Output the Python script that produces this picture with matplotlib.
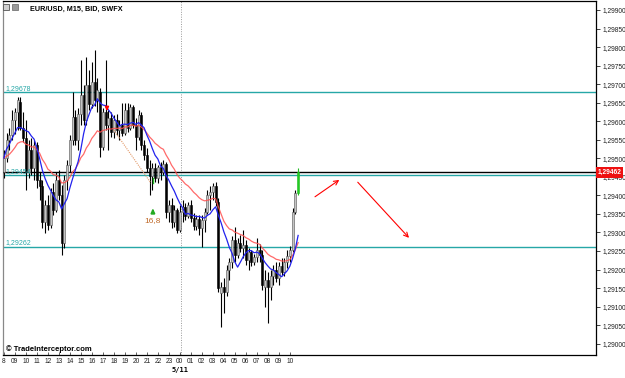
import numpy as np
import pandas as pd
import matplotlib
matplotlib.use("Agg")
import matplotlib.pyplot as plt
from matplotlib.patches import Rectangle
from matplotlib.ticker import FuncFormatter, FixedLocator
import matplotlib.transforms as mtransforms

plt.rcParams['font.family'] = ['Liberation Sans', 'DejaVu Sans']

# M15 bars, values in points above 1.29000
open_pts = [463, 501, 549, 563, 603, 625, 652, 582, 555, 463, 522, 474, 536, 442, 425, 328, 374, 320, 409, 361,
            442, 401, 272, 442, 482, 549, 611, 549, 620, 671, 603, 698, 646, 706, 657, 679, 531, 625, 590, 609,
            571, 603, 576, 590, 568, 630, 582, 638, 590, 557, 617, 536, 509, 474, 452, 474, 447, 477, 463, 485,
            355, 374, 328, 361, 307, 355, 369, 344, 374, 339, 317, 336, 312, 334, 355, 401, 409, 425, 382, 137,
            153, 139, 199, 220, 280, 239, 272, 258, 266, 226, 247, 220, 234, 253, 239, 153, 172, 153, 183, 199,
            177, 210, 193, 220, 237, 253, 355, 406]
high_pts = [522, 568, 582, 630, 636, 665, 665, 625, 603, 549, 555, 549, 544, 463, 442, 388, 401, 420, 433, 463,
            468, 428, 455, 495, 563, 679, 630, 636, 765, 698, 773, 738, 760, 792, 717, 690, 636, 765, 630, 625,
            617, 620, 603, 649, 649, 649, 646, 644, 609, 630, 625, 549, 528, 495, 487, 487, 482, 490, 495, 490,
            388, 393, 374, 366, 374, 388, 379, 382, 388, 353, 347, 347, 347, 366, 415, 425, 433, 436, 393, 166,
            177, 212, 231, 290, 315, 285, 293, 307, 280, 258, 253, 242, 285, 269, 253, 199, 193, 199, 212, 220,
            220, 231, 231, 253, 264, 366, 415, 474]
low_pts = [447, 490, 522, 549, 566, 576, 576, 544, 415, 447, 455, 442, 420, 388, 312, 299, 307, 312, 347, 355,
           388, 239, 258, 415, 463, 536, 536, 522, 590, 590, 590, 630, 636, 641, 625, 504, 522, 576, 522, 557,
           555, 563, 549, 560, 563, 571, 576, 582, 522, 549, 522, 495, 463, 401, 415, 436, 433, 442, 455, 339,
           328, 312, 315, 299, 301, 328, 334, 339, 328, 307, 307, 293, 261, 301, 350, 361, 388, 371, 139, 45,
           83, 129, 172, 204, 220, 231, 247, 231, 212, 199, 210, 212, 220, 220, 145, 99, 56, 118, 158, 166,
           158, 185, 183, 204, 220, 247, 350, 401]
close_pts = [501, 549, 563, 603, 625, 657, 582, 555, 463, 522, 474, 536, 442, 425, 328, 374, 320, 409, 361, 442,
             401, 272, 442, 482, 549, 611, 549, 620, 671, 603, 698, 646, 706, 657, 684, 531, 625, 590, 609, 571,
             603, 576, 590, 568, 630, 582, 638, 590, 557, 617, 536, 509, 474, 452, 474, 447, 477, 463, 485, 355,
             374, 328, 361, 307, 355, 369, 344, 374, 339, 317, 336, 312, 334, 355, 401, 409, 425, 382, 150, 153,
             139, 199, 220, 280, 239, 272, 258, 266, 226, 247, 220, 234, 253, 239, 158, 172, 153, 183, 199, 177,
             210, 193, 220, 237, 253, 355, 406, 462]

hour_labels = ['8', '09', '10', '11', '12', '13', '14', '15', '16', '17', '18', '19', '20', '21', '22', '23',
               '00', '01', '02', '03', '04', '05', '06', '07', '08', '09', '10']
levels = [1.29678, 1.29454, 1.29262]
level_labels = ['1,29678', '1,29454', '1,29262']
last_price = 1.29462

base = 1.29
o = base + np.array(open_pts) / 1e5
h = base + np.array(high_pts) / 1e5
l = base + np.array(low_pts) / 1e5
c = base + np.array(close_pts) / 1e5
idx = np.arange(len(c))

fig = plt.figure(figsize=(6.25, 3.78), dpi=100)
ax = fig.add_axes([3 / 625, 1 - 355 / 378, 593 / 625, 354 / 378])
ax.set_xlim(-0.3, 215.3)
ax.set_ylim(1.289695, 1.299243)

teal = '#26a7a7'
for lv, lab in zip(levels, level_labels):
    ax.axhline(lv, color=teal, lw=1.0, zorder=2)
    ax.text(0.5, lv + 0.000006, lab, color=teal, fontsize=5, va='bottom', ha='left', zorder=6)
ax.axhline(last_price, color='black', lw=1.0, zorder=3)

# day separator
ax.axvline(64.3, color='#999999', lw=0.7, ls=(0, (1, 1.5)), zorder=1)

# candles
up = c >= o
for i in idx:
    last = i == idx[-1]
    if last:
        col, face = '#22bb22', '#22cc22'
    elif up[i]:
        col, face = '#555555', '#c4c4c4'
    else:
        col, face = 'black', 'black'
    ax.vlines(i, l[i], h[i], color='black' if not last else col, lw=0.8, zorder=4)
    lo, hi = min(o[i], c[i]), max(o[i], c[i])
    ax.bar(i, max(hi - lo, 0.000015), bottom=lo, width=0.75, color=face, edgecolor=col, lw=0.4, zorder=5)

# moving averages
closes = pd.Series(c)
fast = closes.rolling(8, min_periods=1).mean()
slow = closes.ewm(span=21, adjust=False).mean()
ax.plot(idx, slow, color='#ff5050', lw=0.9, alpha=0.85, zorder=6)
ax.plot(idx, fast, color='#2222ee', lw=0.9, zorder=7)

# drawings
ax.plot([40, 53.5], [1.29576, 1.29433], color='#e39a6a', lw=0.8, ls=(0, (1, 1)), zorder=6)
ax.annotate('', xy=(37.5, 1.29620), xytext=(37.5, 1.29645),
            arrowprops=dict(arrowstyle='-|>', color='red', lw=1.2, mutation_scale=5), zorder=8)
ax.annotate('', xy=(54.2, 1.29372), xytext=(54.2, 1.29348),
            arrowprops=dict(arrowstyle='-|>', color='#22aa22', lw=1.5, mutation_scale=5), zorder=8)
ax.plot([54.2, 54.2], [1.29433, 1.29447], color='#22bb22', lw=1, zorder=8)
ax.text(54.2, 1.29333, '16,8', color='#c06a2a', fontsize=6, ha='center', va='center', zorder=8)
ax.annotate('', xy=(122.8, 1.29446), xytext=(112.3, 1.29392),
            arrowprops=dict(arrowstyle='->', color='red', lw=0.8, mutation_scale=8))
ax.annotate('', xy=(148.0, 1.29280), xytext=(128.0, 1.29441),
            arrowprops=dict(arrowstyle='->', color='red', lw=0.8, mutation_scale=8))

# axes styling
for s in ax.spines.values():
    s.set_color('black')
    s.set_linewidth(0.9)
ax.spines['left'].set_color('#888888')
ax.yaxis.tick_right()
ax.yaxis.set_major_locator(FixedLocator(np.arange(1.29, 1.29901, 0.0005)))
ax.yaxis.set_major_formatter(FuncFormatter(lambda v, p: f"{v:.5f}".replace('.', ',')))
ax.tick_params(axis='y', right=True, left=False, length=3, width=0.6, pad=1.5, labelsize=4.8, colors='#222222')
ax.set_xticks(np.arange(0, 4 * len(hour_labels), 4))
ax.set_xticklabels(hour_labels)
ax.tick_params(axis='x', length=2, width=0.5, direction='in', pad=2.0, labelsize=4.8, colors='#222222')

# current price tag
trans = mtransforms.blended_transform_factory(ax.transAxes, ax.transData)
ax.text(1.003, last_price, '1,29462', transform=trans, fontsize=4.8, color='white', weight='bold',
        ha='left', va='center', zorder=10, clip_on=False,
        bbox=dict(boxstyle='square,pad=0.25', facecolor='#ee1111', edgecolor='none'))

fig.text(30 / 625, 1 - 9 / 378, 'EUR/USD, M15, BID, SWFX', fontsize=5.2, weight='bold', va='center', ha='left')
fig.text(6 / 625, 1 - 349 / 378, '\u00a9 TradeInterceptor.com', fontsize=5.5, weight='bold', va='center', ha='left')
fig.text(180 / 625, 1 - 370 / 378, '5/11', fontsize=5, weight='bold', va='center', ha='center',
         family='DejaVu Sans Mono')

# toolbar icons
fig.add_artist(Rectangle((3 / 625, 1 - 10 / 378), 6 / 625, 6 / 378, transform=fig.transFigure,
                         facecolor='#cfcfcf', edgecolor='#555555', lw=0.6))
fig.add_artist(Rectangle((12 / 625, 1 - 10 / 378), 6 / 625, 6 / 378, transform=fig.transFigure,
                         facecolor='#9a9a9a', edgecolor='#777777', lw=0.6))

fig.savefig('out.png', dpi=100)
